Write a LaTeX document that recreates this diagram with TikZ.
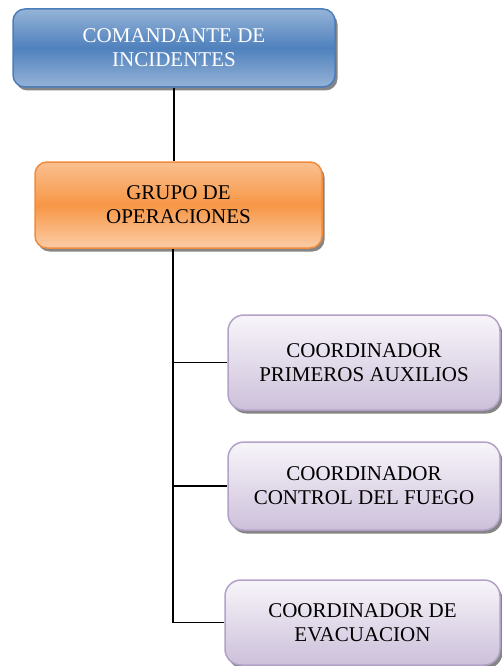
\documentclass[tikz,border=0pt]{standalone}
\usepackage{fontspec}
\setmainfont{Liberation Serif}
\usetikzlibrary{positioning,calc,shadows}
\definecolor{BossTop}{RGB}{149,179,215}
\definecolor{BossMid}{RGB}{79,129,189}
\definecolor{BossLine}{RGB}{74,126,187}
\definecolor{OpsTop}{RGB}{250,192,144}
\definecolor{OpsMid}{RGB}{247,150,70}
\definecolor{OpsLine}{RGB}{240,140,60}
\definecolor{LilaTop}{RGB}{248,245,250}
\definecolor{LilaBot}{RGB}{204,192,218}
\definecolor{LilaLine}{RGB}{179,162,199}
\tikzset{
  box/.style={line width=1.5pt,align=center,inner sep=0pt,
    font=\fontsize{21}{24}\selectfont,
    drop shadow={shadow xshift=2.5pt,shadow yshift=-3.5pt,fill=black!60,opacity=0.8}},
  boss/.style={box,draw=BossLine,rounded corners=12pt,text=white,
    top color=BossTop,bottom color=BossTop,middle color=BossMid},
  ops/.style={box,draw=OpsLine,rounded corners=12pt,text=black,
    top color=OpsTop,bottom color=OpsTop!80!white,middle color=OpsMid},
  coord/.style={box,draw=LilaLine,rounded corners=16pt,text=black,
    top color=LilaTop,bottom color=LilaBot},
  conn/.style={draw=black,line width=1.9pt},
}
\begin{document}
\begin{tikzpicture}[x=1pt,y=-1pt]
\useasboundingbox (0,0) rectangle (501,666);
\node[boss,minimum width=322pt,minimum height=78pt] (cmd) at (174,48)
  {COMANDANTE DE\\INCIDENTES};
\node[ops,minimum width=287pt,minimum height=86pt] (ops) at (178.5,205)
  {GRUPO DE\\OPERACIONES};
\node[coord,minimum width=272pt,minimum height=95pt] (aux) at (364,362.5)
  {COORDINADOR\\PRIMEROS AUXILIOS};
\node[coord,minimum width=272pt,minimum height=88pt] (fuego) at (364,486)
  {COORDINADOR\\CONTROL DEL FUEGO};
\node[coord,minimum width=275pt,minimum height=85pt] (evac) at (362.5,622.5)
  {COORDINADOR DE\\EVACUACION};
\coordinate (trunk) at (173,0);
\draw[conn] (cmd.south) -- (cmd.south |- ops.north);
\draw[conn] (trunk |- ops.south) |- (evac.west);
\draw[conn] (trunk |- aux.west) -- (aux.west);
\draw[conn] (trunk |- fuego.west) -- (fuego.west);
\end{tikzpicture}
\end{document}
